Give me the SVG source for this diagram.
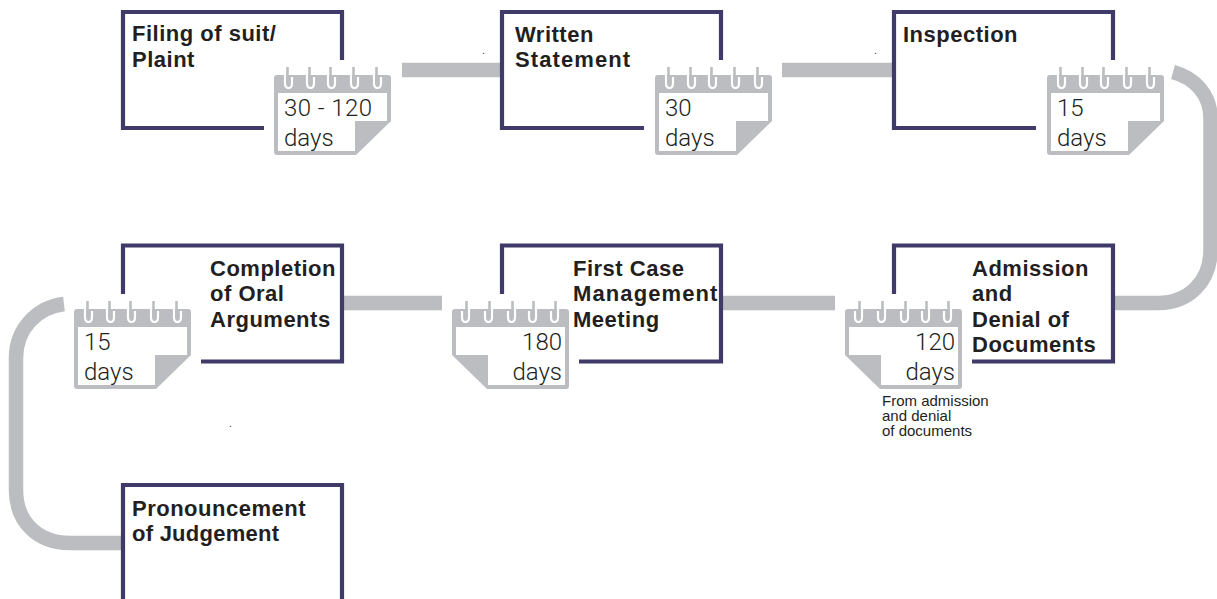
<svg xmlns="http://www.w3.org/2000/svg" width="1217" height="599" viewBox="0 0 1217 599">
<style>
.box{fill:none;stroke:#3f3a68;stroke-width:4.2}
.con{fill:none;stroke:#bcbdc0;stroke-width:14.5}
.t{font-family:"Liberation Sans",Arial,sans-serif;font-weight:700;font-size:22px;letter-spacing:.5px;fill:#231f20}
.w{letter-spacing:1.1px}
.n{letter-spacing:.25px}
.d{font-family:Roboto,"Liberation Sans",Arial,sans-serif;font-weight:300;font-size:24px;fill:#231f20}
.s{font-family:"Liberation Sans",Arial,sans-serif;font-size:15px;fill:#231f20}
.dot{font-family:"Liberation Sans",Arial,sans-serif;font-size:10px;fill:#231f20}
</style>
<defs>
<g id="cal">
<path d="M3 10H114Q117 10 117 13V56L82 90H3Q0 90 0 87V13Q0 10 3 10Z" fill="#bcbdc0"/>
<path d="M4 28H113V56H81V86H4Z" fill="#fff"/>
<g fill="none" stroke="#fff" stroke-width="2.2"><path d="M11 10V18Q11 23 14.5 23Q18 23 18 18V12"/><path d="M33 10V18Q33 23 36.5 23Q40 23 40 18V12"/><path d="M54 10V18Q54 23 57.5 23Q61 23 61 18V12"/><path d="M77 10V18Q77 23 80.5 23Q84 23 84 18V12"/><path d="M100 10V18Q100 23 103.5 23Q107 23 107 18V12"/></g>
<g fill="none" stroke="#bcbdc0" stroke-width="2.6"><path d="M13.5 2V19"/><path d="M35.5 2V19"/><path d="M56.5 2V19"/><path d="M79.5 2V19"/><path d="M102.5 2V19"/></g>
</g>
</defs>
<g id="connectors">
<path class="con" d="M402 70H501"/>
<path class="con" d="M782 70H893"/>
<path class="con" d="M344 303H442"/>
<path class="con" d="M723 303H835"/>
<path class="con" d="M1173 72C1195 78 1210.5 95 1210.5 118V250C1210.5 282 1188 303 1158 303H1115"/>
<path class="con" d="M64 304C38 307 16 328 16 358V490C16 522 38 543 70 543H121"/>
</g>
<g id="n1">
<path class="box" d="M342 60V12H123V128H264"/>
<text class="t" x="132" y="41">Filing of suit/</text><text class="t" x="132" y="67">Plaint</text>
<use href="#cal" x="274" y="65"/>
<text class="d" x="284" y="116" textLength="88">30 - 120</text><text class="d" x="284" y="146">days</text>
</g>
<g id="n2">
<path class="box" d="M721 60V12H502V128H644"/>
<text class="t" x="515" y="42">Written</text><text class="t w" x="515" y="67">Statement</text>
<use href="#cal" x="655" y="65"/>
<text class="d" x="665" y="116">30</text><text class="d" x="665" y="146">days</text>
</g>
<g id="n3">
<path class="box" d="M1113 60V12H894V128H1036"/>
<text class="t" x="903" y="42">Inspection</text>
<use href="#cal" x="1047" y="65"/>
<text class="d" x="1057" y="116">15</text><text class="d" x="1057" y="146">days</text>
</g>
<g id="n4">
<path class="box" d="M894 294V245.500H1113V361.500H972"/>
<text class="t" x="972" y="276">Admission</text><text class="t" x="972" y="301">and</text><text class="t" x="972" y="327">Denial of</text><text class="t" x="972" y="352">Documents</text>
<use href="#cal" transform="translate(962 299) scale(-1 1)"/>
<text class="d" x="955" y="350" text-anchor="end">120</text><text class="d" x="955" y="380" text-anchor="end">days</text>
<text class="s" x="882" y="406">From admission</text><text class="s" x="882" y="421">and denial</text><text class="s" x="882" y="436">of documents</text>
</g>
<g id="n5">
<path class="box" d="M502 294V245.500H721V361.500H579"/>
<text class="t" x="573" y="276">First Case</text><text class="t w" x="573" y="301">Management</text><text class="t" x="573" y="327">Meeting</text>
<use href="#cal" transform="translate(569 299) scale(-1 1)"/>
<text class="d" x="562" y="350" text-anchor="end">180</text><text class="d" x="562" y="380" text-anchor="end">days</text>
</g>
<g id="n6">
<path class="box" d="M123 294V245.500H342V361.500H201"/>
<text class="t" x="210" y="276">Completion</text><text class="t" x="210" y="301">of Oral</text><text class="t" x="210" y="327">Arguments</text>
<use href="#cal" x="74" y="299"/>
<text class="d" x="84" y="350">15</text><text class="d" x="84" y="380">days</text>
</g>
<g id="n7">
<path class="box" d="M123 599V485H342V599"/>
<text class="t" x="132" y="516">Pronouncement</text><text class="t n" x="132" y="541">of Judgement</text>
</g>
<text class="dot" x="482" y="54">.</text><text class="dot" x="874" y="54">.</text><text class="dot" x="229" y="427">.</text>
</svg>
